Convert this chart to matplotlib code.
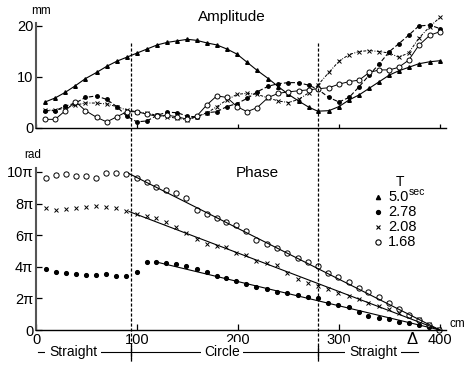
import matplotlib
matplotlib.use("Agg")
import matplotlib.pyplot as plt
from matplotlib.lines import Line2D
from matplotlib.transforms import blended_transform_factory

plt.rcParams['font.family'] = ['Liberation Sans', 'DejaVu Sans']

# ---------------- data ----------------
amp_x = [9, 19, 29, 39, 49, 60, 70, 80, 90, 100, 110, 120, 130, 140, 150, 159, 169, 179, 189, 199,
         209, 219, 230, 240, 250, 260, 270, 279, 290, 300, 310, 320, 330, 340, 350, 359, 369, 379, 390, 400]
amp_50 = [5.0, 5.8, 6.9, 8.2, 9.6, 10.8, 12.0, 13.0, 13.8, 14.6, 15.4, 16.2, 16.7, 17.0, 17.3, 17.1, 16.6, 16.2, 15.4, 14.4,
          12.8, 11.2, 9.6, 8.0, 6.5, 5.2, 4.0, 3.2, 3.3, 4.1, 5.4, 6.4, 7.7, 9.0, 10.3, 11.1, 11.8, 12.5, 12.9, 13.1]
amp_278 = [3.3, 3.3, 4.2, 4.8, 5.9, 6.2, 5.5, 4.1, 2.2, 1.1, 1.3, 2.4, 3.0, 2.9, 2.2, 2.1, 2.9, 3.1, 4.1, 4.7,
           5.7, 7.0, 8.1, 8.6, 8.8, 8.8, 8.3, 7.5, 5.9, 5.0, 5.9, 8.0, 10.3, 12.5, 14.9, 16.4, 18.1, 19.9, 20.1, 19.4]
amp_208 = [3.4, 3.4, 3.8, 4.4, 4.8, 4.8, 4.6, 4.1, 3.4, 3.1, 2.8, 2.4, 2.1, 1.8, 1.5, 2.1, 2.8, 4.1, 5.4, 6.5,
           6.7, 6.5, 5.8, 5.2, 4.9, 5.5, 6.8, 8.3, 10.8, 13.0, 14.3, 14.9, 15.1, 14.9, 14.6, 13.8, 14.6, 17.5, 19.8, 21.6]
amp_168 = [1.6, 1.6, 3.3, 5.1, 3.3, 2.0, 1.1, 2.1, 3.1, 3.1, 2.6, 2.2, 2.4, 2.1, 1.6, 2.2, 4.4, 6.2, 5.9, 4.1,
           3.1, 3.9, 5.9, 6.7, 7.0, 7.2, 7.4, 7.6, 7.8, 8.5, 9.0, 9.3, 10.8, 11.3, 11.3, 11.8, 13.2, 16.1, 18.1, 18.8]

# phase in units of pi
ph_x = [10, 20, 30, 40, 50, 59, 69, 79, 89, 100, 110, 119, 129, 139, 149, 159, 169, 179, 188, 198,
        208, 218, 229, 239, 249, 259, 269, 279, 289, 299, 310, 320, 329, 340, 350, 359, 369, 379, 389, 399]
ph_168 = [9.64, 9.81, 9.87, 9.75, 9.75, 9.64, 9.92, 9.96, 9.85, 9.64, 9.39, 9.07, 8.86, 8.65, 8.37, 7.59, 7.34, 7.07, 6.86, 6.65,
          6.29, 5.70, 5.42, 5.17, 4.89, 4.54, 4.32, 4.05, 3.59, 3.34, 3.02, 2.68, 2.42, 2.11, 1.73, 1.31, 0.95, 0.63, 0.32, 0.0]
ph_208 = [7.70, 7.59, 7.64, 7.74, 7.80, 7.85, 7.80, 7.74, 7.55, 7.34, 7.22, 7.07, 6.86, 6.50, 6.12, 5.74, 5.44, 5.32, 5.23, 4.85,
          4.75, 4.39, 4.22, 4.11, 3.59, 3.21, 3.00, 2.78, 2.58, 2.36, 2.15, 1.95, 1.72, 1.50, 1.30, 1.10, 0.90, 0.70, 0.35, 0.05]
ph_278 = [3.88, 3.65, 3.63, 3.52, 3.48, 3.48, 3.52, 3.42, 3.40, 3.69, 4.28, 4.32, 4.26, 4.16, 4.05, 3.85, 3.64, 3.42, 3.29, 3.10,
          2.91, 2.74, 2.58, 2.43, 2.32, 2.22, 2.11, 2.00, 1.73, 1.58, 1.48, 1.12, 0.91, 0.78, 0.68, 0.53, 0.42, 0.32, 0.17, 0.0]

fit_168_x, fit_168_y = [92, 400], [9.9, 0.0]
fit_208_x, fit_208_y = [92, 400], [7.5, 0.0]
fit_278_x, fit_278_y = [118, 400], [4.32, 0.0]

boundaries = [94, 279]
amp_ticks = [0, 10, 20]
amp_ticklabels = ['0', '10', '20']
ph_ticks = [0, 2, 4, 6, 8, 10]
ph_ticklabels = ['0', '2π', '4π', '6π', '8π', '10π']
x_ticks = [0, 100, 200, 300, 400]
legend_labels = ['5.0', '2.78', '2.08', '1.68']

# ---------------- figure ----------------
W, H = 465, 365
fig = plt.figure(figsize=(W / 100, H / 100), dpi=100)


def fx(px):
    return px / W


def fy(py):
    return 1 - py / H


ax1 = fig.add_axes([fx(36), fy(127.5), fx(446) - fx(36), fy(23) - fy(127.5)])
ax2 = fig.add_axes([fx(36), fy(330), fx(446) - fx(36), fy(168) - fy(330)])

for ax in (ax1, ax2):
    ax.set_xlim(0, 406)
    ax.spines['top'].set_visible(False)
    ax.spines['right'].set_visible(False)
    ax.spines['left'].set_linewidth(1.5)
    ax.spines['left'].set_color('#555555')
    ax.spines['bottom'].set_linewidth(1.0)
    ax.tick_params(direction='in', length=4, width=0.9, labelsize=10.5, pad=2)
    ax.set_xticks(x_ticks)

ax1.set_ylim(0, 20.5)
ax1.set_yticks(amp_ticks)
ax1.set_yticklabels(amp_ticklabels)
ax1.set_xticklabels([])
ax1.tick_params(axis='x', length=3)

ax2.set_ylim(0, 10.25)
ax2.set_yticks(ph_ticks)
ax2.set_yticklabels(ph_ticklabels)
ax2.set_xticklabels([str(v) for v in x_ticks])

lw = 0.8
# amplitude curves
ax1.plot(amp_x, amp_50, '-', color='black', lw=lw, marker='^', ms=2.6, clip_on=False)
ax1.plot(amp_x, amp_278, '--', color='black', lw=lw, marker='o', ms=2.5, dashes=(4, 2), clip_on=False)
ax1.plot(amp_x, amp_208, '-.', color='black', lw=0.7, marker='x', ms=2.2, mew=0.7,
         dashes=(3, 1.5, 1, 1.5), clip_on=False)
ax1.plot(amp_x, amp_168, '-', color='black', lw=0.7, marker='o', ms=3.6, mfc='white', mew=0.7, clip_on=False)

# phase points
ax2.plot(ph_x, ph_278, 'o', color='black', ms=2.7, clip_on=False)
ax2.plot(ph_x, ph_208, 'x', color='black', ms=2.2, mew=0.7, clip_on=False)
ax2.plot(ph_x, ph_168, 'o', color='black', ms=3.8, mfc='white', mew=0.7, clip_on=False)
ax2.plot(fit_168_x, fit_168_y, '-', color='black', lw=lw)
ax2.plot(fit_208_x, fit_208_y, '-', color='black', lw=lw)
ax2.plot(fit_278_x, fit_278_y, '-', color='black', lw=lw)

# vertical dashed boundary lines spanning both panels
tr = blended_transform_factory(ax1.transData, fig.transFigure)
for b in boundaries:
    fig.add_artist(Line2D([b, b], [fy(43), fy(362)], transform=tr, color='black',
                          lw=0.9, ls=(0, (2.5, 1.5))))

# titles and units
fig.text(fx(232), fy(17), 'Amplitude', ha='center', va='center', fontsize=11)
fig.text(fx(257), fy(173), 'Phase', ha='center', va='center', fontsize=11)
fig.text(fx(41), fy(11), 'mm', ha='center', va='center', fontsize=8.5)
fig.text(fx(33), fy(155), 'rad', ha='center', va='center', fontsize=8.5)
fig.text(fx(449), fy(324), 'cm', ha='left', va='center', fontsize=8.5)
fig.text(fx(412), fy(339), 'Δ', ha='center', va='center', fontsize=12)

# legend
fig.text(fx(400), fy(182), 'T', ha='center', va='center', fontsize=10)
leg_y = [197, 212, 227, 242]
leg_styles = [dict(marker='^', ms=3.0, mfc='black'),
              dict(marker='o', ms=2.8, mfc='black'),
              dict(marker='x', ms=2.5, mew=0.8),
              dict(marker='o', ms=3.8, mfc='white', mew=0.8)]
for lab, yy, st in zip(legend_labels, leg_y, leg_styles):
    fig.add_artist(Line2D([fx(378)], [fy(yy)], transform=fig.transFigure, ls='none',
                          color='black', **st))
    fig.text(fx(388), fy(yy), lab, ha='left', va='center', fontsize=10.5)
fig.text(fx(409), fy(192), 'sec', ha='left', va='center', fontsize=7.5)

# bottom section annotation
ya = fy(352)
fig.add_artist(Line2D([fx(38), fx(418)], [ya, ya], transform=fig.transFigure, color='black', lw=0.8))
for b in boundaries:
    fig.add_artist(Line2D([b, b], [fy(346), fy(358)], transform=tr, color='black', lw=0.9))
for px, lab in [(73, 'Straight'), (222, 'Circle'), (373, 'Straight')]:
    fig.text(fx(px), ya, lab, ha='center', va='center', fontsize=10,
             bbox=dict(facecolor='white', edgecolor='none', pad=2.5))

fig.savefig('out.png', dpi=100)
